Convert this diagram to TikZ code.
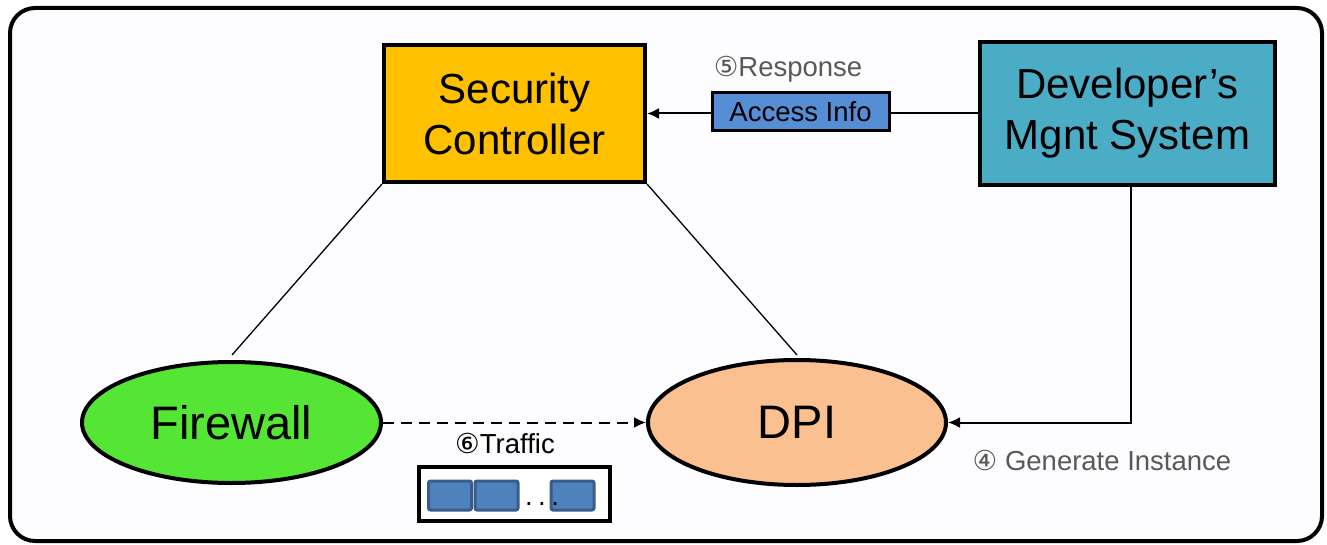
\documentclass[tikz,border=0pt]{standalone}
\usepackage{fontspec}
\setmainfont{Liberation Sans}
\newfontfamily\circfont{DejaVu Sans}
\usetikzlibrary{shapes.geometric,arrows.meta}
\definecolor{scyellow}{RGB}{255,192,0}
\definecolor{devteal}{RGB}{75,172,198}
\definecolor{fwgreen}{RGB}{85,229,52}
\definecolor{dpiorange}{RGB}{250,192,144}
\definecolor{infoblue}{RGB}{85,142,213}
\definecolor{pktfill}{RGB}{79,129,189}
\definecolor{pktline}{RGB}{56,93,138}
\definecolor{labelgray}{RGB}{89,89,89}
\definecolor{bgwhite}{RGB}{253,253,255}
\tikzset{
  bigbox/.style={draw=black, line width=4pt, rectangle, inner sep=0pt, align=center,
    font=\fontsize{42}{51}\selectfont},
  ell/.style={draw=black, line width=4pt, ellipse, inner sep=0pt,
    font=\fontsize{47}{50}\selectfont},
  thinline/.style={line width=1.3pt},
  arr/.style={line width=2pt, -{Latex[length=12pt,width=11pt]}},
  graylabel/.style={text=labelgray, font=\fontsize{27.5}{30}\selectfont, inner sep=0pt},
  pkt/.style={draw=pktline, fill=pktfill, line width=3pt, rounded corners=2pt,
    minimum width=43pt, minimum height=29pt, inner sep=0pt}
}
\begin{document}
\begin{tikzpicture}[x=1pt,y=-1pt]
\useasboundingbox (0,0) rectangle (1327,545);
\draw[line width=4pt, rounded corners=25pt, fill=bgwhite] (10,8) rectangle (1322,541);

\node[bigbox, fill=scyellow, minimum width=261pt, minimum height=137pt] (sc) at (514.5,113.5) {Security\\Controller};
\node[bigbox, fill=devteal, minimum width=295pt, minimum height=143pt] (dev) at (1127.5,113.5) {Developer’s\\Mgnt System};
\node[ell, fill=fwgreen, minimum width=299pt, minimum height=121pt] (fw) at (231.5,422.5) {Firewall};
\node[ell, fill=dpiorange, minimum width=298pt, minimum height=125pt] (dpi) at (797,422.5) {DPI};

\coordinate (fwtop) at (232,355);
\coordinate (dpitop) at (797,355);
\draw[thinline] (sc.south west) -- (fwtop);
\draw[thinline] (sc.south east) -- (dpitop);

\draw[arr] (dev.west) -- (sc.east);
\node[draw=black, line width=3pt, fill=infoblue, minimum width=177pt, minimum height=38pt, inner sep=0pt,
  font=\fontsize{27.5}{30}\selectfont] (info) at (800.5,112) {Access Info};
\node[graylabel] (resp) at (788,69) {{\circfont ⑤}Response};

\draw[arr] ([xshift=3.5pt]dev.south) |- (dpi.east);
\node[graylabel] (gen) at (1102,460) {{\circfont ④} Generate Instance};

\draw[arr, dashed, dash pattern=on 11pt off 7pt] (fw.east) -- (dpi.west);
\node[font=\fontsize{27.5}{30}\selectfont, inner sep=0pt] (traffic) at (505,443) {{\circfont ⑥}Traffic};

\node[draw=black, line width=4pt, fill=white, minimum width=191pt, minimum height=54pt, inner sep=0pt] (tbox) at (514,494) {};
\node[pkt] (p1) at (450,495.5) {};
\node[pkt] (p2) at (496.5,495.5) {};
\node[pkt] (p3) at (572.5,495.5) {};
\node[font=\fontsize{27.5}{30}\selectfont, inner sep=0pt, anchor=base] (dots) at (542,505) {.\hspace{5.5pt}.\hspace{5.5pt}.};
\end{tikzpicture}
\end{document}
